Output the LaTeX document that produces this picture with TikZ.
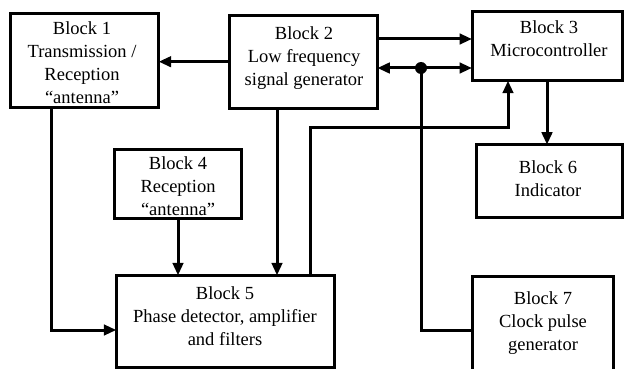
\documentclass[tikz,border=0pt]{standalone}
\usepackage{fontspec}
\setmainfont{Liberation Serif}
\usetikzlibrary{arrows.meta,calc}
\begin{document}
\begin{tikzpicture}[x=1pt,y=-1pt,
  blockbox/.style={draw=black, line width=3pt, fill=none, inner sep=0pt, outer sep=0pt},
  blocktext/.style={align=center, inner sep=0pt, anchor=north, font=\fontsize{18.5}{23}\selectfont},
  tip/.tip={Triangle[length=12.5pt,width=10.5pt]},
  wire/.style={draw=black, line width=3pt},
  conn/.style={wire, -tip},
  bconn/.style={wire, tip-tip}]
\useasboundingbox (0,0) rectangle (624,369);
\fill[white] (0,0) rectangle (624,369);
% boxes
\node[blockbox, minimum width=148pt, minimum height=94pt] (b1) at (84.7,60.3) {};
\node[blockbox, minimum width=148.3pt, minimum height=92.7pt] (b2) at (303.2,61.7) {};
\node[blockbox, minimum width=150pt, minimum height=69.4pt] (b3) at (547,46) {};
\node[blockbox, minimum width=126.6pt, minimum height=69.4pt] (b4) at (178,184) {};
\node[blockbox, minimum width=218.4pt, minimum height=91.7pt] (b5) at (225.5,321.2) {};
\node[blockbox, minimum width=146pt, minimum height=73.3pt] (b6) at (549,181.3) {};
\node[blockbox, minimum width=141pt, minimum height=94.3pt] (b7) at (542.5,323.8) {};
% texts
\node[blocktext] (t1) at (82,21) {Block 1\\Transmission /\\Reception\\“antenna”};
\node[blocktext] (t2) at (304,26.4) {Block 2\\Low frequency\\signal generator};
\node[blocktext] (t3) at (549,20.4) {Block 3\\Microcontroller};
\node[blocktext] (t4) at (178,156.4) {Block 4\\Reception\\“antenna”};
\node[blocktext] (t5) at (225,286.4) {Block 5\\Phase detector, amplifier\\and filters};
\node[blocktext] (t6) at (548,160.4) {Block 6\\Indicator};
\node[blocktext] (t7) at (543,291.4) {Block 7\\Clock pulse\\generator};
% helper coordinates
\coordinate (y39) at (0,39);
\coordinate (y68) at (0,68);
\coordinate (y330) at (0,330);
\coordinate (dot) at (421,68);
\coordinate (x51) at (51,0);
\coordinate (x277) at (277,0);
\coordinate (x310) at (310,0);
\coordinate (k1) at (310,127);
\coordinate (k2) at (508,127);
% connectors
\draw[conn] (b2.west) -- (b2.west -| b1.east);
\draw[conn] (b2.east |- y39) -- (b3.west |- y39);
\draw[bconn] (b2.east |- y68) -- (b3.west |- y68);
\fill (dot) circle (6pt);
\draw[wire] (dot) |- (b7.west |- y330);
\draw[conn] (b3.south) -- (b3.south |- b6.north);
\draw[conn] (b5.north -| x310) -- (k1) -- (k2) -- (k2 |- b3.south);
\draw[conn] (b1.south -| x51) |- (b5.west |- y330);
\draw[conn] (b4.south) -- (b4.south |- b5.north);
\draw[conn] (b2.south -| x277) -- (b5.north -| x277);
\end{tikzpicture}
\end{document}
